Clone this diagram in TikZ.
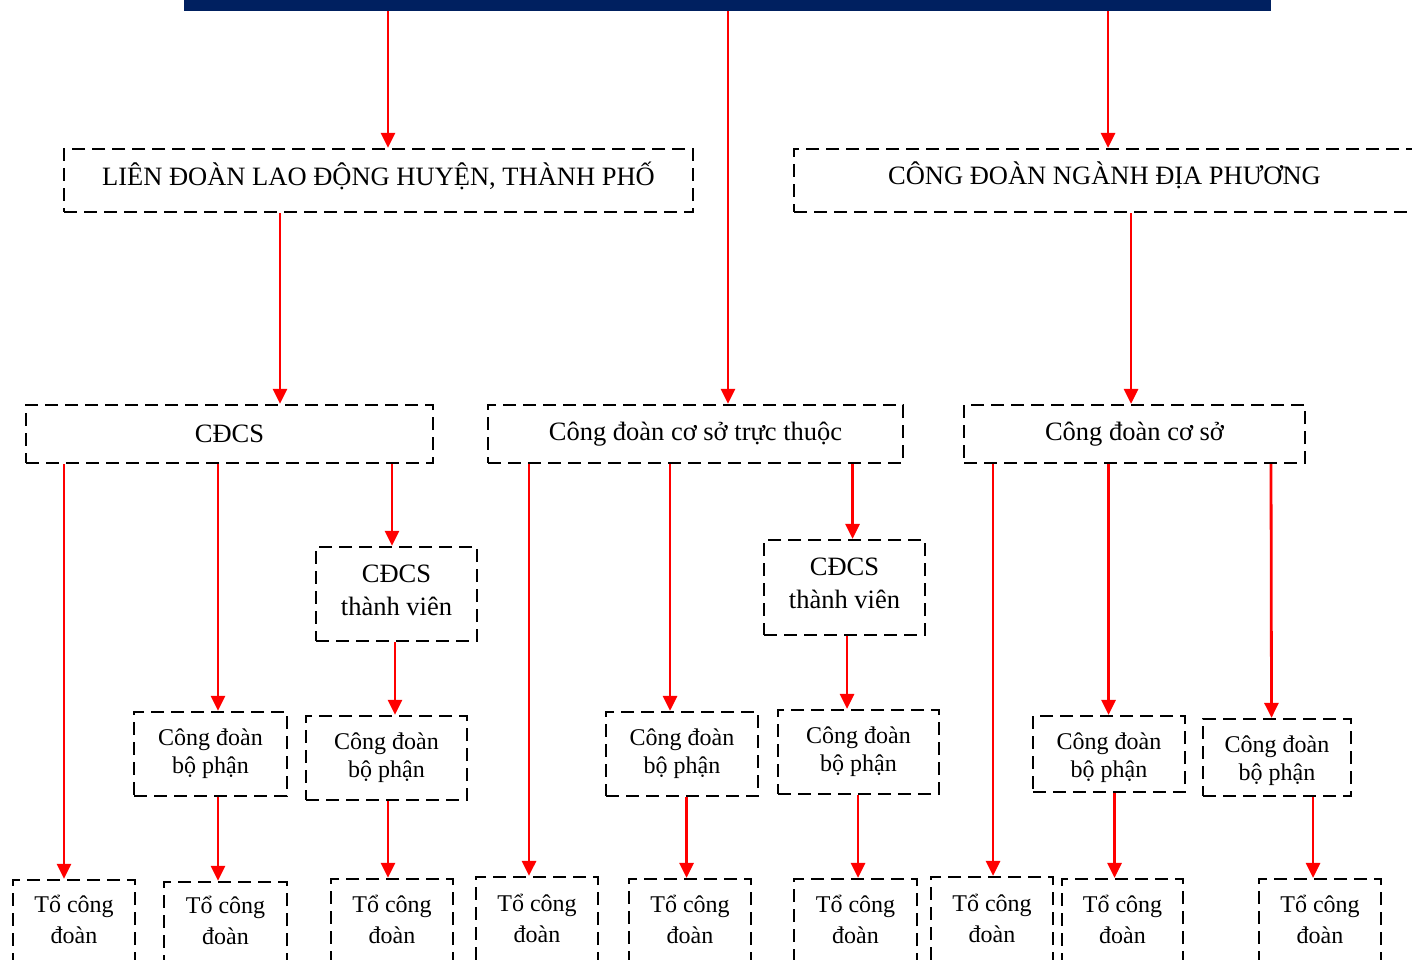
\documentclass[tikz,border=0pt]{standalone}
\usepackage{fontspec}
\setmainfont{Liberation Serif}
\usetikzlibrary{arrows.meta}
\definecolor{navy}{RGB}{0,32,96}
\definecolor{arrred}{RGB}{255,0,0}
\tikzset{
  box/.style={draw=black, line width=2.2pt, dash pattern=on 13pt off 7pt, inner sep=0pt, align=center},
  bigtxt/.style={font=\fontsize{26.5}{33}\selectfont, align=center, inner sep=0pt},
  midtxt/.style={font=\fontsize{24}{28}\selectfont, align=center, inner sep=0pt},
  toTxt/.style={font=\fontsize{24}{31}\selectfont, align=center, inner sep=0pt},
  arrline/.style={draw=arrred, line width=2.8pt, -{Triangle[length=15pt,width=14pt]}},
  topbar/.style={fill=navy, inner sep=0pt, draw=none},
}
\newcommand\arrw[4]{\draw[arrline] ([xshift=#2pt]#1.south) -- ([xshift=#4pt]#3.north);}
\begin{document}
\begin{tikzpicture}[x=1pt,y=-1pt]
\useasboundingbox (0,0) rectangle (1412,960);
\clip (0,0) rectangle (1412,960);
% top bar
\node[topbar, minimum width=1087pt, minimum height=11pt] (bar) at (727.5,5.5) {};
% level 1
\node[box, minimum width=629pt, minimum height=63pt, label={[bigtxt, yshift=5pt]center:LIÊN ĐOÀN LAO ĐỘNG HUYỆN, THÀNH PHỐ}] (lien) at (378.5,180.5) {};
\node[box, minimum width=621pt, minimum height=63pt, label={[bigtxt, yshift=5pt]center:CÔNG ĐOÀN NGÀNH ĐỊA PHƯƠNG}] (nganh) at (1104.5,180.5) {};
% level 2
\node[box, bigtxt, minimum width=407pt, minimum height=58pt] (cdcs) at (229.5,434) {CĐCS};
\node[box, bigtxt, minimum width=415pt, minimum height=58pt] (tt) at (695.5,434) {Công đoàn cơ sở trực thuộc};
\node[box, bigtxt, minimum width=341pt, minimum height=58pt] (cs) at (1134.5,434) {Công đoàn cơ sở};
% level 3
\node[box, minimum width=161pt, minimum height=94pt, label={[bigtxt, yshift=4pt]center:{CĐCS\\thành viên}}] (tv1) at (396.5,594) {};
\node[box, minimum width=161pt, minimum height=95pt, label={[bigtxt, yshift=4pt]center:{CĐCS\\thành viên}}] (tv2) at (844.5,587.5) {};
% level 4
\node[box, midtxt, minimum width=153pt, minimum height=84pt] (bpA) at (210.5,754) {Công đoàn\\bộ phận};
\node[box, midtxt, minimum width=161pt, minimum height=84pt] (bpB) at (386.5,758) {Công đoàn\\bộ phận};
\node[box, midtxt, minimum width=152pt, minimum height=84pt] (bpC) at (682,754) {Công đoàn\\bộ phận};
\node[box, midtxt, minimum width=161pt, minimum height=84pt] (bpD) at (858.5,752) {Công đoàn\\bộ phận};
\node[box, minimum width=152pt, minimum height=76pt, label={[midtxt, yshift=-4pt]center:{Công đoàn\\bộ phận}}] (bpE) at (1109,754) {};
\node[box, minimum width=148pt, minimum height=77pt, label={[midtxt, yshift=-3pt]center:{Công đoàn\\bộ phận}}] (bpF) at (1277,757.5) {};
% bottom
\tikzset{tobox/.style={box, label={[toTxt, yshift=2pt]center:{Tổ công\\đoàn}}}}
\node[tobox, minimum width=122pt, minimum height=83pt] (t1) at (74,921.5) {};
\node[tobox, minimum width=123pt, minimum height=81pt] (t2) at (225.5,922.5) {};
\node[tobox, minimum width=122pt, minimum height=84pt] (t3) at (392,921) {};
\node[tobox, minimum width=122pt, minimum height=86pt] (t4) at (537,920) {};
\node[tobox, minimum width=122pt, minimum height=84pt] (t5) at (690,921) {};
\node[tobox, minimum width=123pt, minimum height=84pt] (t6) at (855.5,921) {};
\node[tobox, minimum width=122pt, minimum height=86pt] (t7) at (992,920) {};
\node[tobox, minimum width=121pt, minimum height=84pt] (t8) at (1122.5,921) {};
\node[tobox, minimum width=122pt, minimum height=84pt] (t9) at (1320,921) {};
% arrows from bar
\arrw{bar}{-339.5}{lien}{9.5}
\arrw{bar}{0.5}{tt}{32.5}
\arrw{bar}{380.5}{nganh}{3.5}
% level1 -> level2
\arrw{lien}{-98.5}{cdcs}{50.5}
\arrw{nganh}{26.5}{cs}{-3.5}
% cdcs branch
\arrw{cdcs}{-165.5}{t1}{-10}
\arrw{cdcs}{-11.5}{bpA}{7.5}
\arrw{cdcs}{162.5}{tv1}{-4.5}
\arrw{tv1}{-1.5}{bpB}{8.5}
\arrw{bpA}{7.5}{t2}{-7.5}
\arrw{bpB}{1.5}{t3}{-4}
% truc thuoc branch
\arrw{tt}{-166.5}{t4}{-8}
\arrw{tt}{-25.5}{bpC}{-12}
\arrw{tt}{157}{tv2}{8}
\arrw{tv2}{2.5}{bpD}{-11.5}
\arrw{bpC}{4.5}{t5}{-3.5}
\arrw{bpD}{-0.5}{t6}{2.5}
% co so branch
\arrw{cs}{-141.5}{t7}{1}
\arrw{cs}{-26}{bpE}{-0.5}
\arrw{cs}{136.5}{bpF}{-5.5}
\arrw{bpE}{5.5}{t8}{-8}
\arrw{bpF}{36}{t9}{-7}
\end{tikzpicture}
\end{document}
